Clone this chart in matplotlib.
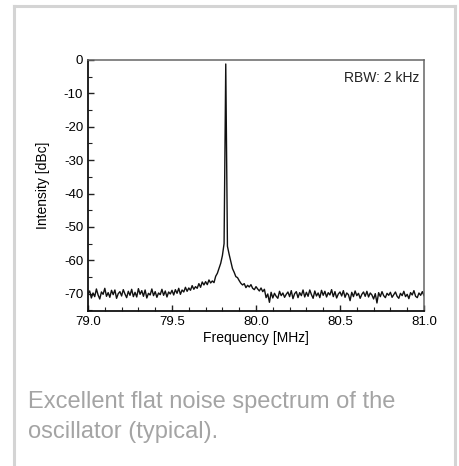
import numpy as np
import matplotlib
matplotlib.use('Agg')
import matplotlib.pyplot as plt
from matplotlib.ticker import MultipleLocator, FuncFormatter
from matplotlib.lines import Line2D

plt.rcParams['font.family'] = ['Liberation Sans', 'DejaVu Sans']

# Espectro: 79.00 a 81.00 MHz, paso 0.01 MHz
freq = np.linspace(79.0, 81.0, 201)
level = [
    -70.0, -69.2, -71.3, -69.8, -70.9, -68.6, -70.4, -71.6, -69.5, -70.2,   # 79.00
    -68.4, -70.8, -69.7, -71.1, -69.0, -70.3, -68.9, -71.4, -70.0, -69.4,   # 79.10
    -70.7, -68.8, -70.1, -71.2, -69.3, -70.5, -68.7, -70.9, -69.6, -71.0,   # 79.20
    -68.5, -70.2, -69.1, -70.8, -68.9, -71.3, -69.9, -70.4, -68.6, -70.6,   # 79.30
    -69.4, -71.1, -69.8, -70.3, -68.7, -70.5, -69.2, -71.0, -69.5, -70.1,   # 79.40
    -69.0, -70.4, -68.8, -69.9, -68.4, -70.2, -68.9, -69.5, -68.1, -69.3,   # 79.50
    -68.3, -69.0, -67.6, -68.7, -67.9, -68.4, -67.0, -68.1, -66.5, -67.4,   # 79.60
    -66.4, -67.3, -65.9, -66.8, -66.2, -66.7, -64.8, -63.9, -62.4, -60.9,   # 79.70
    -58.6, -55.0, -1.2, -55.8, -58.2, -60.3, -62.5, -63.6, -64.9, -65.2,   # 79.80
    -66.1, -66.9, -67.4, -67.0, -68.2, -67.5, -68.0, -67.3, -68.4, -68.8,   # 79.90
    -67.9, -68.6, -69.2, -68.3, -69.4, -68.7, -71.2, -70.1, -72.6, -69.6,   # 80.00
    -71.3, -69.9, -70.8, -71.4, -69.3, -70.6, -69.8, -71.1, -70.2, -69.5,   # 80.10
    -70.9, -69.1, -71.5, -70.0, -69.4, -71.2, -69.7, -70.6, -68.9, -71.0,   # 80.20
    -69.6, -70.8, -68.9, -70.3, -71.4, -69.2, -70.7, -69.8, -71.2, -69.0,   # 80.30
    -70.5, -69.3, -71.0, -69.7, -70.4, -68.8, -70.9, -69.4, -71.3, -70.1,   # 80.40
    -69.5, -70.7, -69.1, -71.1, -69.8, -70.3, -72.1, -69.6, -70.9, -69.2,   # 80.50
    -70.6, -69.9, -71.4, -70.2, -69.5, -70.8, -69.3, -71.0, -69.8, -70.4,   # 80.60
    -71.6, -70.0, -72.8, -69.7, -70.9, -69.4, -70.6, -71.2, -69.9, -70.5,   # 80.70
    -69.6, -71.1, -70.3, -69.5, -70.8, -71.4, -69.9, -70.6, -69.3, -70.9,   # 80.80
    -70.2, -71.5, -69.7, -70.4, -69.1, -70.8, -71.2, -69.8, -70.5, -69.4,   # 80.90
    -70.6,                                                               # 81.00
]

rbw_text = 'RBW: 2 kHz'
caption = 'Excellent flat noise spectrum of the\noscillator (typical).'

fig = plt.figure(figsize=(4.59, 4.66), dpi=100)

# Marco gris exterior (sin borde inferior)
frame = dict(color='#d4d4d4', lw=2.2, transform=fig.transFigure)
fig.add_artist(Line2D([14 / 459, 14 / 459], [0, 1 - 6 / 466], **frame))
fig.add_artist(Line2D([14 / 459, 455 / 459], [1 - 6 / 466, 1 - 6 / 466], **frame))
fig.add_artist(Line2D([455 / 459, 455 / 459], [0, 1 - 6 / 466], **frame))

ax = fig.add_axes([88 / 459, 1 - 311 / 466, 336 / 459, 251 / 466])
ax.plot(freq, level, color='#111111', lw=1.0)

ax.set_xlim(79.0, 81.0)
ax.set_ylim(-75.2, 0)
ax.xaxis.set_major_locator(MultipleLocator(0.5))
ax.xaxis.set_minor_locator(MultipleLocator(0.1))
ax.yaxis.set_major_locator(MultipleLocator(10))
ax.yaxis.set_minor_locator(MultipleLocator(5))
ax.xaxis.set_major_formatter(FuncFormatter(lambda v, p: f'{v:.1f}'))
ax.yaxis.set_major_formatter(FuncFormatter(lambda v, p: f'{v:.0f}'.replace('\u2212', '-')))
ax.tick_params(which='both', direction='in', top=False, right=False,
               labelsize=9.5, color='#222222', pad=3.5)
ax.tick_params(which='major', length=4.5, width=1)
ax.tick_params(which='minor', length=3, width=0.8)

for s in ['left', 'bottom']:
    ax.spines[s].set_color('#111111')
    ax.spines[s].set_linewidth(1.3)
for s in ['top', 'right']:
    ax.spines[s].set_color('#666666')
    ax.spines[s].set_linewidth(1.1)

ax.set_xlabel('Frequency [MHz]', fontsize=10, labelpad=2)
ax.set_ylabel('Intensity [dBc]', fontsize=10, labelpad=10)

ax.text(0.985, 0.93, rbw_text, transform=ax.transAxes, ha='right', va='center',
        fontsize=10, color='#222222')

fig.text(28 / 459, 1 - 417 / 466, caption, ha='left', va='center',
         fontsize=17, color='#a4a4a4', linespacing=1.42)

plt.savefig('out.png', dpi=100)
